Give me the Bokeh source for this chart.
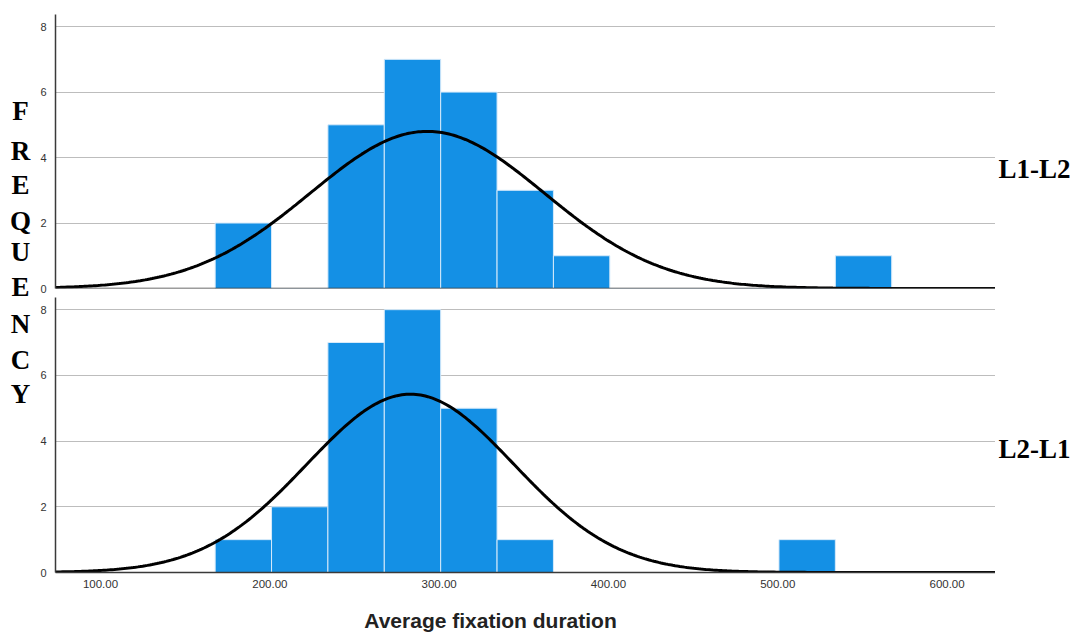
import numpy as np
from bokeh.plotting import figure
from bokeh.layouts import row, column
from bokeh.models import Range1d, FixedTicker, PrintfTickFormatter, Label, Span, ColumnDataSource
from bokeh.embed import file_html
from bokeh.resources import INLINE

# ---- data ----
bin_left = [167.7, 201.0, 234.3, 267.6, 300.9, 334.2, 367.5, 400.8, 434.1, 467.4, 500.7, 534.0]
bin_width = 33.3
counts_l1l2 = [2, 0, 5, 7, 6, 3, 1, 0, 0, 0, 0, 1]
counts_l2l1 = [1, 2, 7, 8, 5, 1, 0, 0, 0, 0, 1, 0]
fit_l1l2 = dict(mean=293.0, sd=69.2, n=25)
fit_l2l1 = dict(mean=283.0, sd=61.2, n=25)
panel_labels = ["L1-L2", "L2-L1"]
x_ticks = [100, 200, 300, 400, 500, 600]
y_ticks = [0, 2, 4, 6, 8]
x_title = "Average fixation duration"
y_title = "FREQUENCY"

X0, X1 = 73.4, 628.6
BAR = "#1490e5"
GRID = "#bdbdbd"
AX = "#3a3a3a"


def blank(w, h):
    f = figure(frame_width=w, frame_height=h, output_backend="svg", toolbar_location=None,
               x_range=Range1d(0, w), y_range=Range1d(0, h),
               min_border_left=0, min_border_right=0, min_border_top=0, min_border_bottom=0)
    f.axis.visible = False
    f.grid.visible = False
    f.outline_line_color = None
    return f


def panel(counts, fit, frame_h, top_b, bot_b, show_x):
    p = figure(frame_width=940, frame_height=frame_h, output_backend="svg",
               toolbar_location=None, x_range=Range1d(X0, X1), y_range=Range1d(0, 8.37),
               min_border_left=20, min_border_right=0, min_border_top=top_b,
               min_border_bottom=bot_b)
    p.outline_line_color = None
    p.background_fill_color = "white"
    p.xgrid.grid_line_color = None
    p.ygrid.grid_line_color = GRID
    p.ygrid.grid_line_width = 1
    p.yaxis.ticker = FixedTicker(ticks=y_ticks)
    p.yaxis.axis_line_color = AX
    p.yaxis.axis_line_width = 1.5
    p.yaxis.major_tick_out = 0
    p.yaxis.major_tick_in = 0
    p.yaxis.minor_tick_out = 0
    p.yaxis.minor_tick_in = 0
    p.yaxis.major_label_standoff = 9
    p.yaxis.major_label_text_font = "Liberation Sans"
    p.yaxis.major_label_text_font_size = "11px"
    p.yaxis.major_label_text_color = "#333333"

    left = np.array(bin_left)
    src = ColumnDataSource(dict(left=left, right=left + bin_width,
                                top=np.array(counts, dtype=float)))
    p.quad(left="left", right="right", bottom=0, top="top", source=src,
           fill_color=BAR, line_color="#d6eafa", line_width=1)

    xs = np.linspace(X0, X1, 400)
    ys = fit["n"] * bin_width / (fit["sd"] * np.sqrt(2 * np.pi)) * \
        np.exp(-0.5 * ((xs - fit["mean"]) / fit["sd"]) ** 2)
    p.line(xs, ys, line_color="black", line_width=3)

    if show_x:
        p.xaxis.ticker = FixedTicker(ticks=x_ticks)
        p.xaxis.formatter = PrintfTickFormatter(format="%.2f")
        p.xaxis.axis_line_color = AX
        p.xaxis.axis_line_width = 1.5
        p.xaxis.major_tick_out = 0
        p.xaxis.major_tick_in = 0
        p.xaxis.minor_tick_out = 0
        p.xaxis.minor_tick_in = 0
        p.xaxis.major_label_standoff = 7
        p.xaxis.major_label_text_font = "Liberation Sans"
        p.xaxis.major_label_text_font_size = "11.5px"
        p.xaxis.major_label_text_color = "#333333"
    else:
        p.xaxis.visible = False
        p.add_layout(Span(location=0, dimension="width", line_color=AX, line_width=1.5))
    return p


top = panel(counts_l1l2, fit_l1l2, 274, 14, 5, False)
bot = panel(counts_l2l1, fit_l2l1, 275, 4, 38, True)

# vertical stacked y title
lt = blank(35, 610)
letter_centres = [111, 151, 185, 221, 252, 287, 324, 360, 394]
for ch, cy in zip(y_title, letter_centres):
    lt.add_layout(Label(x=20, y=610 - (cy + 9) + 10, x_units="screen", y_units="screen",
                        text=ch, text_align="center", text_baseline="alphabetic",
                        text_font="Liberation Serif", text_font_style="bold",
                        text_font_size="27px", text_color="black"))

# panel labels on the right
rt = blank(88, 610)
for txt, base in zip(panel_labels, [178, 458]):
    rt.add_layout(Label(x=3, y=610 - base + 10, x_units="screen", y_units="screen",
                        text=txt, text_align="left", text_baseline="alphabetic",
                        text_font="Liberation Serif", text_font_style="bold",
                        text_font_size="27px", text_color="black"))

# x title strip along the bottom
tfig = blank(1083, 24)
tfig.add_layout(Label(x=490, y=14, x_units="screen", y_units="screen",
                      text=x_title, text_align="center", text_baseline="alphabetic",
                      text_font="Liberation Sans", text_font_style="bold",
                      text_font_size="21px", text_color="#222222"))

layout = column(row(lt, column(top, bot, spacing=0), rt, spacing=0), tfig, spacing=0)
open("out.html", "w").write(file_html(layout, INLINE))
